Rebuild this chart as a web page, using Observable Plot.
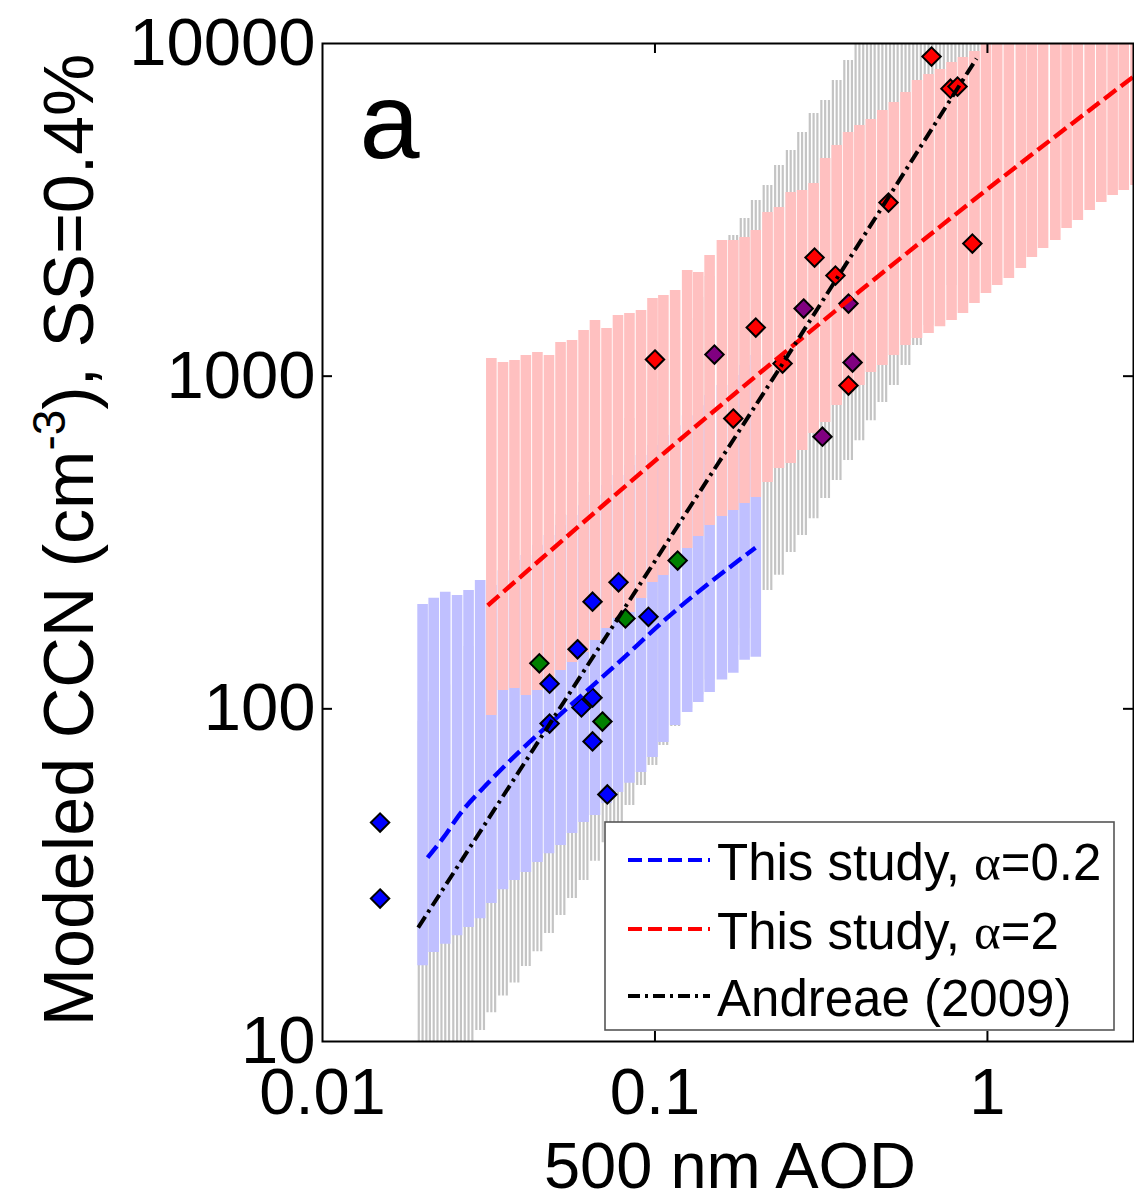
<!DOCTYPE html>
<html><head><meta charset="utf-8">
<script src="https://cdn.jsdelivr.net/npm/d3@7"></script>
<script src="https://cdn.jsdelivr.net/npm/@observablehq/plot@0.6"></script>
<style>body{margin:0;background:#fff} svg{display:block}</style>
</head><body><div id="chart"></div>
<script>
// ---- tick labels ----
const xTicks = [0.01, 0.1, 1];
const yTicks = [10, 100, 1000, 10000];

// ---- Andreae (2009) range (grey vertical bars) ----
const greyX = [0.0200,0.0216,0.0234,0.0254,0.0275,0.0298,0.0322,0.0349,0.0378,0.0409,0.0443,0.0480,0.0520,0.0563,0.0610,0.0660,0.0715,0.0774,0.0838,0.0908,0.0983,0.106,0.115,0.125,0.135,0.146,0.159,0.172,0.186,0.201,0.218,0.236,0.256,0.277,0.300,0.325,0.352,0.381,0.412,0.446,0.483,0.523,0.567,0.614,0.665,0.720,0.780,0.844,0.914,0.990];
const greyLo = [9,9,9,9,9,10.8,12.2,13.7,15.0,16.8,18.6,21.1,23.9,26.9,30.5,34.8,39.6,45.5,51.2,58.8,67.5,77.6,88.5,100,110,122,139,155,174,200,227,252,295,332,373,429,486,558,640,735,833,937,1076,1236,1419,1630,1872,2150,2469,2836];
const greyHi = [92,105,118,137,154,172,193,218,245,273,308,344,384,429,479,535,598,668,746,845,970,1122,1297,1490,1723,1992,2305,2646,2977,3372,3741,4295,4766,5398,6157,6737,7737,8885,12000,12000,12000,12000,12000,12000,12000,12000,12000,12000,12000,12000];

// ---- This study, alpha=0.2 range (blue vertical bars) ----
const blueBandX = [0.0200,0.0216,0.0234,0.0254,0.0275,0.0298,0.0322,0.0349,0.0378,0.0409,0.0443,0.0480,0.0520,0.0563,0.0610,0.0660,0.0715,0.0774,0.0838,0.0908,0.0983,0.106,0.115,0.125,0.135,0.146,0.159,0.172,0.186,0.201];
const blueBandLo = [16.9,18.5,19.6,20.8,22.0,23.4,26.0,28.6,30.5,32.2,34.5,36.7,38.8,42.2,45.5,47.8,51.9,56.0,59.7,64.4,71.4,79.2,89.1,97.5,104.5,112,122,128,140,143];
const blueBandHi = [206,215,224,219,227,243,235,260,279,289,310,332,356,381,408,438,469,503,539,577,619,663,710,761,815,874,937,1004,1076,1153];

// ---- This study, alpha=2 range (pink vertical bars) ----
const pinkX = [0.0322,0.0349,0.0378,0.0409,0.0443,0.0480,0.0520,0.0563,0.0610,0.0660,0.0715,0.0774,0.0838,0.0908,0.0983,0.106,0.115,0.125,0.135,0.146,0.159,0.172,0.186,0.201,0.218,0.236,0.256,0.277,0.300,0.325,0.352,0.381,0.412,0.446,0.483,0.523,0.567,0.614,0.665,0.720,0.780,0.844,0.914,0.990,1.07,1.16,1.26,1.36,1.47,1.60,1.73,1.87,2.03,2.20,2.38,2.57,2.79];
const pinkLo = [95.5,113.5,115.1,109.6,113.5,121.7,130.4,137.8,147.7,160.5,174.3,186.8,194.8,214.6,239.7,251.6,279.1,303.3,329.6,355.6,378.4,394.5,414.1,431.6,478.8,527.7,546.3,597.6,672.3,725.5,815.6,886.6,937.3,1025,1076,1153,1236,1297,1343,1409,1470,1543,1653,1771,1872,1965,2106,2272,2418,2556,2777,2936,3146,3325,3490,3613,3741];
const pinkHi = [1130,1099,1114,1153,1177,1153,1262,1279,1371,1470,1390,1521,1543,1575,1711,1747,1809,2077,2049,2305,2556,2556,2610,2740,3102,3211,3563,3613,3792,4508,4933,5398,5666,5907,6285,6645,7121,7737,8064,8348,8763,9072,9456,12000,12000,12000,12000,12000,12000,12000,12000,12000,12000,12000,12000,12000,12000];

// ---- fit lines ----
const blueLineX = [0.0207,0.0231,0.026,0.0314,0.0394,0.0495,0.0771,0.109,0.2006];
const blueLineY = [35.7,41.0,48.5,59.7,74.9,92.2,136.8,188,305];
const redLineX = [0.0314,0.0686,0.109,0.172,0.2335,0.415,0.722,1.301,2.75];
const redLineY = [204.5,403,599,878,1131,1809,2820,4480,7952];
const blackLineX = [0.0194,0.0482,0.242,0.504,0.927];
const blackLineY = [22.0,90,1090,3450,9010];

// ---- observations (diamonds) ----
const blueObsX = [0.0149,0.0149,0.0777,0.0649,0.0956,0.0585,0.0482,0.0649,0.0601,0.0482,0.0649,0.0719];
const blueObsY = [45.5,26.9,240,210,189,151,119,108,101,90.3,79.8,55.3];
const greenObsX = [0.0449,0.0815,0.117,0.0695];
const greenObsY = [137,187,279,91.6];
const redObsX = [0.100,0.172,0.201,0.242,0.302,0.349,0.504,0.679,0.774,0.813,0.901,0.382];
const redObsY = [1122,746,1400,1091,2272,2006,3325,9134,7317,7421,2503,937];
const purpleObsX = [0.151,0.280,0.382,0.393,0.319];
const purpleObsY = [1161,1597,1653,1099,658];

const legendLabels = ["This study, ", "This study, ", "Andreae (2009)"];
const legendAlpha = ["0.2", "2", null];

// ---- build tables ----
const zipBand = (xs, lo, hi) => xs.map((x, i) => ({x, lo: lo[i], hi: hi[i]}));
const zipXY = (xs, ys) => xs.map((x, i) => ({x, y: ys[i]}));
const grey = zipBand(greyX, greyLo, greyHi);
const blueBand = zipBand(blueBandX, blueBandLo, blueBandHi);
const pinkBand = zipBand(pinkX, pinkLo, pinkHi);

const W = 1134, H = 1203, mL = 322, mR = 1, mT = 43, mB = 162;
const pw = W - mL - mR, ph = H - mT - mB;
const FONT = "'Liberation Sans', Arial, sans-serif";
const DASH = "15,6";
const DASHDOT = "13,5,3,5";

const diamond = (data, fill) => Plot.dot(data, {x: "x", y: "y", symbol: "diamond2", r: 8.3, fill, stroke: "black", strokeWidth: 2, clip: true});

const chart = Plot.plot({
  width: W, height: H,
  marginLeft: mL, marginRight: mR, marginTop: mT, marginBottom: mB,
  x: {type: "log", domain: [0.01, 2.75], axis: null},
  y: {type: "log", domain: [10, 10000], axis: null},
  style: {fontFamily: FONT, background: "white", color: "black"},
  marks: [
    Plot.ruleX(grey, {x: "x", y1: "lo", y2: "hi", stroke: "#c4c4c4", strokeWidth: 2.2, dx: -3.8, clip: true}),
    Plot.ruleX(grey, {x: "x", y1: "lo", y2: "hi", stroke: "#c4c4c4", strokeWidth: 2.2, dx: 0, clip: true}),
    Plot.ruleX(grey, {x: "x", y1: "lo", y2: "hi", stroke: "#c4c4c4", strokeWidth: 2.2, dx: 3.8, clip: true}),
    Plot.ruleX(blueBand, {x: "x", y1: "lo", y2: "hi", stroke: "#c0c0ff", strokeWidth: 10.6, clip: true}),
    Plot.ruleX(pinkBand, {x: "x", y1: "lo", y2: "hi", stroke: "#ffc0c0", strokeWidth: 10.6, clip: true}),
    diamond(zipXY(blueObsX, blueObsY), "#0000ff"),
    diamond(zipXY(greenObsX, greenObsY), "#008000"),
    diamond(zipXY(purpleObsX, purpleObsY), "#800080"),
    diamond(zipXY(redObsX, redObsY), "#ff0000"),
    Plot.line(zipXY(blueLineX, blueLineY), {x: "x", y: "y", stroke: "#0000ff", strokeWidth: 4.4, strokeDasharray: DASH, strokeLinecap: "butt", curve: "monotone-x", clip: true}),
    Plot.line(zipXY(redLineX, redLineY), {x: "x", y: "y", stroke: "#ff0000", strokeWidth: 4.4, strokeDasharray: DASH, strokeLinecap: "butt", curve: "monotone-x", clip: true}),
    Plot.line(zipXY(blackLineX, blackLineY), {x: "x", y: "y", stroke: "black", strokeWidth: 4, strokeDasharray: DASHDOT, strokeLinecap: "butt", clip: true}),
    Plot.frame({stroke: "black", strokeWidth: 2}),
    Plot.ruleX([0.1, 1], {insetTop: ph - 10, stroke: "black", strokeWidth: 2}),
    Plot.ruleX([0.1, 1], {insetBottom: ph - 10, stroke: "black", strokeWidth: 2}),
    Plot.ruleY([100, 1000], {insetRight: pw - 10, stroke: "black", strokeWidth: 2}),
    Plot.ruleY([100, 1000], {insetLeft: pw - 10, stroke: "black", strokeWidth: 2}),
    Plot.text(xTicks, {x: d => d, frameAnchor: "bottom", dy: 26, lineAnchor: "top", text: d => String(d), fontSize: 65}),
    Plot.text(yTicks, {y: d => d, frameAnchor: "left", dx: -7, textAnchor: "end", text: d => String(d), fontSize: 67}),
    Plot.text(["a"], {frameAnchor: "top-left", dx: 37, dy: 114, lineAnchor: "bottom", textAnchor: "start", text: d => d, fontSize: 108})
  ]
});

const svg = d3.select(chart);
// x-axis title
svg.append("text").attr("x", 730).attr("y", 1188).attr("text-anchor", "middle")
  .attr("font-size", 65).attr("font-family", FONT).text("500 nm AOD");
// y-axis title with superscript
const yt = svg.append("text").attr("transform", "translate(93,540) rotate(-90)")
  .attr("text-anchor", "middle").attr("font-size", 70).attr("font-family", FONT);
yt.append("tspan").text("Modeled CCN (cm");
yt.append("tspan").attr("dy", -28).attr("font-size", 46).text("-3");
yt.append("tspan").attr("dy", 28).text("), SS=0.4%");

// legend
const lg = svg.append("g").attr("font-family", FONT).attr("font-size", 51).attr("text-anchor", "start");
lg.append("rect").attr("x", 605).attr("y", 822).attr("width", 509).attr("height", 208)
  .attr("fill", "white").attr("stroke", "#555").attr("stroke-width", 1.6);
const legendStyles = [
  {stroke: "#0000ff", dash: "14,6"},
  {stroke: "#ff0000", dash: "14,6"},
  {stroke: "black", dash: "12,5,3,5"}
];
const rowY = [860, 929, 996];
legendLabels.forEach((lab, i) => {
  lg.append("line").attr("x1", 628).attr("x2", 710).attr("y1", rowY[i]).attr("y2", rowY[i])
    .attr("stroke", legendStyles[i].stroke).attr("stroke-width", 3.8).attr("stroke-dasharray", legendStyles[i].dash);
  const t = lg.append("text").attr("x", 717).attr("y", rowY[i] + 20).attr("text-anchor", "start");
  t.append("tspan").text(lab);
  if (legendAlpha[i] !== null) {
    t.append("tspan").attr("font-family", "'Liberation Serif', 'Times New Roman', serif").text("\u03b1");
    t.append("tspan").text("=" + legendAlpha[i]);
  }
});

document.getElementById("chart").append(chart);
</script></body></html>
